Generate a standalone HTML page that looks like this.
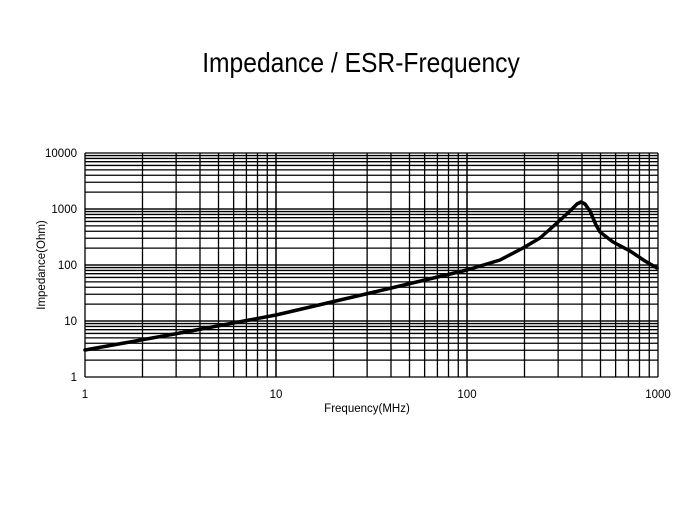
<!DOCTYPE html>
<html><head><meta charset="utf-8"><style>
body{margin:0;background:#fff;width:700px;height:530px;overflow:hidden}
svg{display:block}
text{font-family:"Liberation Sans",sans-serif;fill:#000}
</style></head><body>
<svg id="s" width="700" height="530" xmlns="http://www.w3.org/2000/svg">
<text x="361" y="72" font-size="28" text-anchor="middle" transform="translate(361,0) scale(0.88,1) translate(-361,0)">Impedance / ESR-Frequency</text>
<g id="grid" stroke="#000" stroke-width="1.3" fill="none"></g>
<g font-size="11.5">
<text x="77" y="157" text-anchor="end">10000</text>
<text x="77" y="213" text-anchor="end">1000</text>
<text x="77" y="269" text-anchor="end">100</text>
<text x="77" y="325" text-anchor="end">10</text>
<text x="77" y="381" text-anchor="end">1</text>
<text x="85" y="398" text-anchor="middle">1</text>
<text x="276" y="398" text-anchor="middle">10</text>
<text x="467" y="398" text-anchor="middle">100</text>
<text x="658" y="398" text-anchor="middle">1000</text>
<text x="367" y="412" text-anchor="middle">Frequency(MHz)</text>
<text transform="translate(45,265) rotate(-90)" text-anchor="middle">Impedance(Ohm)</text>
</g>
<path d="M85,350 L180,333 L276,315 L370,293 L467,270 L500,260 L523,248 L540,238 L557,223 L570,211 L577,204 L581,202 L585,204 L590,211 L596,225 L600,232 L613,242 L630,251 L645,261 L657,268" stroke="#000" stroke-width="3.5" fill="none" stroke-linejoin="round" stroke-linecap="round"/>
</svg>
<script>
var g=document.getElementById('grid'),h='';
var x0=85,x1=658,y0=153,y1=377,dx=191,dy=56;
for(var d=0;d<3;d++)for(var k=1;k<=10;k++){var x=x0+dx*(d+Math.log10(k));h+='<line x1="'+x+'" y1="'+y0+'" x2="'+x+'" y2="'+y1+'"/>';}
for(var d=0;d<4;d++)for(var k=1;k<=10;k++){var y=y1-dy*(d+Math.log10(k));h+='<line x1="'+x0+'" y1="'+y+'" x2="'+x1+'" y2="'+y+'"/>';}
g.innerHTML=h;
</script>
</body></html>
